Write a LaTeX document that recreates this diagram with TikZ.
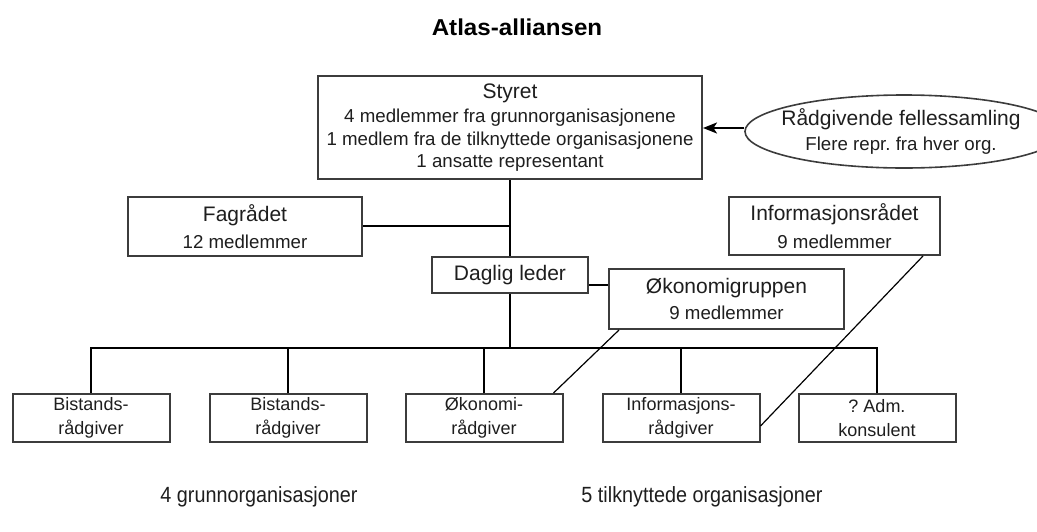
\documentclass[tikz,border=0pt]{standalone}
\usepackage{fontspec}
\setmainfont{Liberation Sans}
\newfontfamily\widebold[FakeStretch=1.05]{Liberation Sans}
\newfontfamily\narrowfont[FakeStretch=0.9]{Liberation Sans}
\usetikzlibrary{shapes.geometric,arrows.meta,calc}
\definecolor{boxgray}{RGB}{60,60,60}
\definecolor{ink}{RGB}{30,30,30}
\newcommand\hdsize{\fontsize{21}{22.5}\selectfont}
\newcommand\subsize{\fontsize{18.7}{22.5}\selectfont}
\newcommand\smallbox{\fontsize{18}{23.5}\selectfont}
\frenchspacing
\begin{document}
\begin{tikzpicture}[x=1pt,y=-1pt,
  box/.style={draw=boxgray, line width=2pt, inner sep=0pt, align=center,
    text=ink, fill=white, font=\subsize},
  staff/.style={box, minimum width=157pt, minimum height=48pt, font=\smallbox},
  link/.style={line width=2pt, black},
  thin/.style={line width=1.2pt, black}]
\useasboundingbox (0,0) rectangle (1037,531);

% title
\node[font={\widebold\bfseries\fontsize{23}{26}\selectfont}, text=black] (title) at (517,27) {Atlas-alliansen};

% board and councils
\node[box, minimum width=384pt, minimum height=103pt] (styret) at (510,127.5)
  {\hdsize Styret\\[2pt]\subsize 4 medlemmer fra grunnorganisasjonene\\1 medlem fra de tilknyttede organisasjonene\\1 ansatte representant};
% the ellipse runs past the right margin; its text sits in a node at its centre
\node[ellipse, draw=boxgray, line width=1.6pt, inner sep=0pt, minimum width=318pt, minimum height=73pt] (fell) at (904,131.5) {};
\node[align=center, text=ink, font=\subsize, inner sep=0pt] (fell-text) at ($(fell.center)+(-3,0)$)
  {\hdsize Rådgivende fellessamling\\[3pt]\subsize Flere repr. fra hver org.};
\node[box, minimum width=234pt, minimum height=59pt] (fag) at (245,226.5)
  {\hdsize Fagrådet\\[5pt]\subsize 12 medlemmer};
\node[box, minimum width=211pt, minimum height=58pt] (info) at (834.5,226)
  {\hdsize Informasjonsrådet\\[5pt]\subsize 9 medlemmer};
\node[box, minimum width=156pt, minimum height=36pt, font=\hdsize] (daglig) at (510,275) {Daglig leder};
\node[box, minimum width=235pt, minimum height=60pt] (okgr) at (726.5,299)
  {\hdsize Økonomigruppen\\[3pt]\subsize 9 medlemmer};

% staff
\node[staff] (bis1) at (91,418) {Bistands-\\rådgiver};
\node[staff] (bis2) at (288,418) {Bistands-\\rådgiver};
\node[staff] (okr) at (484,418) {Økonomi-\\rådgiver};
\node[staff] (infr) at (681,418) {Informasjons-\\rådgiver};
\node[staff] (adm) at (877,418) {? Adm.\\konsulent};

% footer
\node[font={\narrowfont\fontsize{22}{24}\selectfont}, text=ink] (grunn) at (259,497) {4 grunnorganisasjoner};
\node[font={\narrowfont\fontsize{22}{24}\selectfont}, text=ink] (tilkn) at (702,497) {5 tilknyttede organisasjoner};

% connectors
\coordinate (fag-out) at ($(fag.east)+(0,-0.5)$);
\coordinate (ell-in) at ($(fell.west)+(0,-3.5)$);
\draw[link, -{Stealth[length=14pt,width=11pt,inset=3.5pt]}] (ell-in) -- (ell-in -| styret.east);
\draw[link] (styret.south) -- (daglig.north);
\draw[link] (fag-out) -- (fag-out -| styret.south);
\coordinate (dl) at ($(daglig.south east)!0.25!(daglig.north east)$);
\draw[link] (dl) -- (dl -| okgr.west);
\coordinate (bus) at (510,348);
\draw[link] (daglig.south) -- (bus);
\draw[link] (bis1.north) |- (bus) -| (adm.north);
\draw[link] (bis2.north) -- (bis2.north |- bus);
\draw[link] (okr.north) -- (okr.north |- bus);
\draw[link] (infr.north) -- (infr.north |- bus);
\draw[thin] ($(okgr.south west)+(11,0)$) -- ($(okr.north east)+(-10,0)$);
\draw[thin] ($(info.south east)+(-18,0)$) -- ($(infr.north east)+(0,33)$);
\end{tikzpicture}
\end{document}
